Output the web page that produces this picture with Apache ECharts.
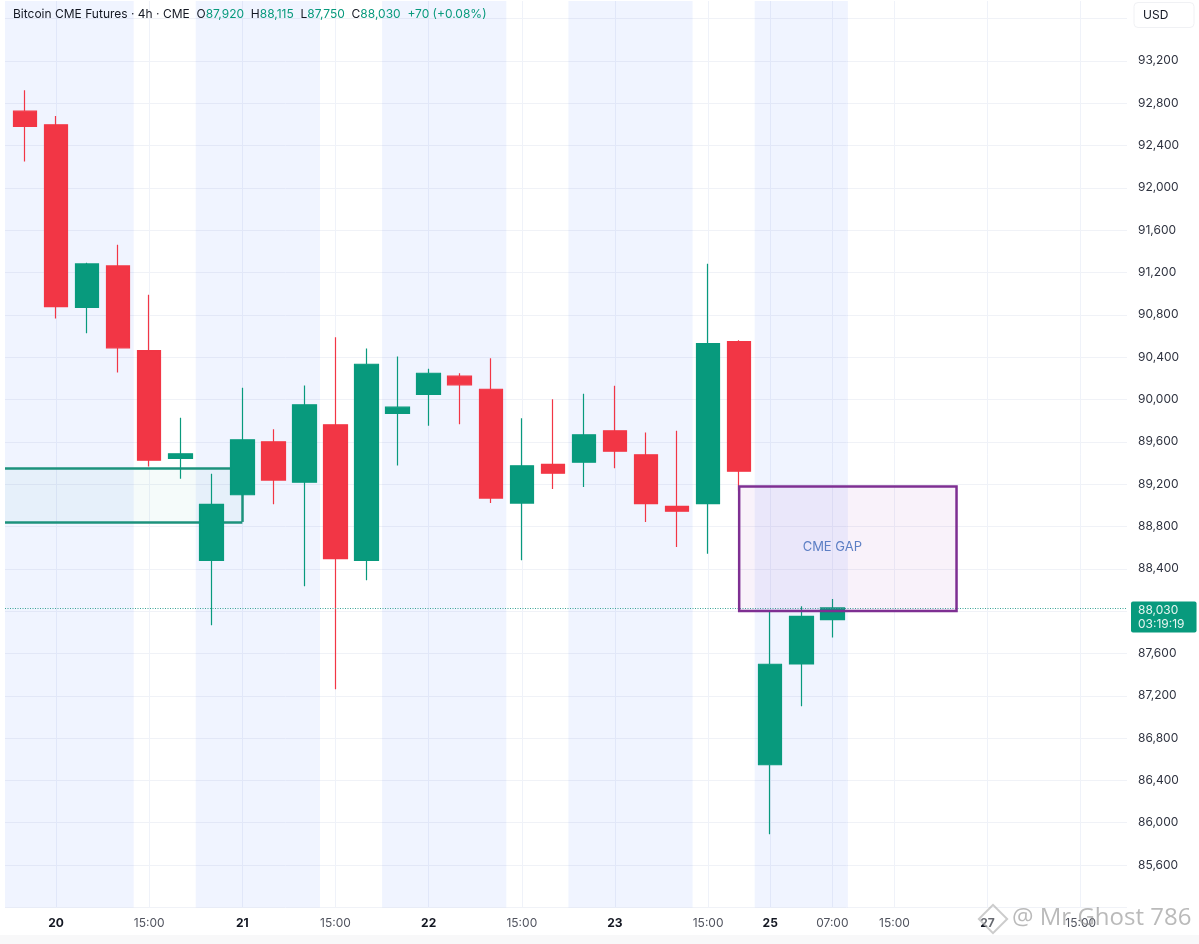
<!DOCTYPE html>
<html lang="en">
<head>
    <meta charset="UTF-8">
    <title>Bitcoin CME Futures 4h</title>
    <script src="https://cdn.jsdelivr.net/npm/echarts@6/dist/echarts.min.js"></script>
    <style>
        * { margin: 0; padding: 0; }
        body { background: #fff; }
        #chart-container { width: 1199px; height: 944px; }
    </style>
</head>
<body>
<div id="chart-container"></div>

<script>
    // bars are placed by slot number, one slot per 4h bar on the exchange's session
    const slots = [0, 1, 2, 3, 4, 5, 6, 7, 8, 9, 10, 11, 12, 13, 14, 15, 16, 17, 18, 19, 20, 21, 22, 23, 24, 25, 26];
    const opens = [92725, 92596, 90871, 91262, 90462, 89443, 88480, 89100, 89600, 89219, 89761, 88480, 89868, 90047, 90220, 90097, 89021, 89386, 89408, 89704, 89478, 88990, 89015, 90547, 86548, 87501, 87920];
    const closes = [92580, 90878, 91281, 90488, 89427, 89487, 89009, 89619, 89238, 89950, 88496, 90333, 89927, 90248, 90139, 89068, 89374, 89304, 89667, 89512, 89015, 88945, 90528, 89323, 87498, 87951, 88030];
    const lows = [92250, 90765, 90626, 90255, 89367, 89251, 87866, 89090, 89011, 88235, 87262, 88291, 89377, 89752, 89767, 89021, 88480, 89153, 89172, 89351, 88842, 88606, 88543, 89141, 85891, 87102, 87750];
    const highs = [92923, 92680, 91293, 91463, 90991, 89827, 89298, 90110, 89719, 90132, 90588, 90481, 90406, 90290, 90248, 90390, 89823, 90003, 90054, 90129, 89688, 89704, 91284, 90560, 87992, 88046, 88115];

    const tickSlots = [1, 4, 7, 10, 13, 16, 19, 22, 24, 26, 28, 31, 34];
    const tickLabels = ['20', '15:00', '21', '15:00', '22', '15:00', '23', '15:00', '25', '07:00', '15:00', '27', '15:00'];

    const slotMin = -0.644;
    const slotMax = 35.49;
    const priceMin = 85200;
    const priceMax = 93766;
    const topPriceLabel = 93200;

    // session shading, from slot / to slot
    const sessionFrom = [slotMin, 5.5, 11.5, 17.5, 23.5];
    const sessionTo = [3.5, 9.5, 15.5, 21.5, 26.5];

    // drawn boxes: green zone and CME gap
    const zoneEndSlot = 7;
    const zonePrices = [89348, 88843];
    const gapSlots = [23, 30];
    const gapPrices = [89178, 88000];
    const gapLabel = 'CME GAP';
    const gapLabelSlot = 26;
    const gapLabelPrice = 88603;

    const lastPrice = 88030;
    const lastLabel = '88,030\n03:19:19';

    const upColor = '#089a7d';
    const downColor = '#f23645';
    const textColor = '#131722';
    const zoneColor = '#1c927c';
    const fontName = 'Inter, sans-serif';

    let candles = [];
    for (let i = 0; i < slots.length; i++) {
        candles.push([slots[i], opens[i], closes[i], lows[i], highs[i]]);
    }

    let sessionAreas = [];
    for (let i = 0; i < sessionFrom.length; i++) {
        sessionAreas.push([{xAxis: sessionFrom[i]}, {xAxis: sessionTo[i]}]);
    }

    let chartDom = document.getElementById('chart-container');
    let myChart = echarts.init(chartDom);

    let option = {
        animation: false,
        backgroundColor: '#fff',
        textStyle: {fontFamily: fontName},
        title: {
            left: 13,
            top: 8,
            padding: 0,
            text: '{k|Bitcoin CME Futures · 4h · CME  O}{v|87,920}{k|  H}{v|88,115}{k|  L}{v|87,750}{k|  C}{v|88,030}{v|  +70 (+0.08%)}',
            textStyle: {
                fontWeight: 'normal',
                rich: {
                    k: {color: textColor, fontSize: 12, fontWeight: 'normal', fontFamily: fontName},
                    v: {color: upColor, fontSize: 12, fontWeight: 'normal', fontFamily: fontName}
                }
            }
        },
        grid: {left: 5, top: 1, width: 1122, height: 906.4},
        xAxis: {
            type: 'value',
            min: slotMin,
            max: slotMax,
            axisLine: {show: false},
            axisTick: {show: false, customValues: tickSlots},
            splitLine: {show: true, lineStyle: {color: '#eff2f9', width: 1}},
            axisLabel: {
                customValues: tickSlots,
                margin: 10,
                hideOverlap: false,
                formatter: function (value) {
                    let label = tickLabels[tickSlots.indexOf(value)];
                    return label.indexOf(':') > 0 ? '{t|' + label + '}' : '{d|' + label + '}';
                },
                rich: {
                    d: {color: textColor, fontSize: 12, fontWeight: 'bold', fontFamily: fontName},
                    t: {color: '#50535e', fontSize: 12, fontFamily: fontName}
                }
            }
        },
        yAxis: {
            type: 'value',
            position: 'right',
            min: priceMin,
            max: priceMax,
            interval: 400,
            axisLine: {show: false},
            axisTick: {show: false},
            splitLine: {show: true, showMaxLine: false, lineStyle: {color: '#f0f2f7', width: 1}},
            axisLabel: {
                margin: 11,
                color: '#2f3340',
                fontSize: 12,
                fontFamily: fontName,
                showMinLabel: false,
                showMaxLabel: false,
                formatter: function (value) {
                    if (value > topPriceLabel) {
                        return '';
                    }
                    return value.toLocaleString('en-US');
                }
            }
        },
        series: [
            {
                // sessions and green zone sit under the candles
                name: 'sessions',
                type: 'line',
                data: [],
                markArea: {
                    silent: true,
                    z: 1,
                    itemStyle: {color: 'rgba(41, 98, 255, 0.07)'},
                    data: sessionAreas
                }
            },
            {
                // zone runs off the left edge, so no left border: edges are three lines
                name: 'zone',
                type: 'line',
                data: [],
                markArea: {
                    silent: true,
                    z: 1,
                    itemStyle: {color: 'rgba(8, 153, 129, 0.04)'},
                    data: [[
                        {coord: [slotMin, zonePrices[0]]},
                        {coord: [zoneEndSlot, zonePrices[1]]}
                    ]]
                },
                markLine: {
                    silent: true,
                    z: 2,
                    symbol: 'none',
                    label: {show: false},
                    lineStyle: {color: zoneColor, type: 'solid', width: 2.5},
                    data: [
                        [{coord: [slotMin, zonePrices[0]]}, {coord: [zoneEndSlot, zonePrices[0]]}],
                        [{coord: [slotMin, zonePrices[1]]}, {coord: [zoneEndSlot, zonePrices[1]]}],
                        [{coord: [zoneEndSlot, zonePrices[0]]}, {coord: [zoneEndSlot, zonePrices[1]]}]
                    ]
                }
            },
            {
                name: 'Bitcoin CME Futures',
                type: 'candlestick',
                z: 3,
                barWidth: 24,
                encode: {x: 0, y: [1, 2, 3, 4]},
                data: candles,
                itemStyle: {
                    color: upColor,
                    color0: downColor,
                    borderColor: upColor,
                    borderColor0: downColor,
                    borderWidth: 1.2
                },
                markLine: {
                    silent: true,
                    symbol: 'none',
                    z: 5,
                    lineStyle: {color: '#3aa597', type: [1, 1.5], width: 1},
                    label: {
                        show: true,
                        position: 'end',
                        distance: 4,
                        offset: [0, 9],
                        formatter: lastLabel,
                        color: '#e6f5f1',
                        backgroundColor: upColor,
                        borderRadius: 2,
                        padding: [2, 12, 1, 7],
                        lineHeight: 14,
                        fontSize: 12,
                        fontFamily: fontName
                    },
                    data: [{yAxis: lastPrice}]
                }
            },
            {
                name: 'gap',
                type: 'line',
                data: [],
                markArea: {
                    silent: true,
                    z: 6,
                    itemStyle: {color: 'rgba(156, 39, 176, 0.06)', borderColor: '#7e2f92', borderWidth: 2.5},
                    data: [[
                        {coord: [gapSlots[0], gapPrices[0]]},
                        {coord: [gapSlots[1], gapPrices[1]]}
                    ]]
                },
                markPoint: {
                    silent: true,
                    z: 7,
                    symbol: 'rect',
                    symbolSize: 0,
                    label: {
                        show: true,
                        position: 'inside',
                        formatter: gapLabel,
                        color: '#5d7fc4',
                        fontSize: 13,
                        fontFamily: fontName
                    },
                    data: [{coord: [gapLabelSlot, gapLabelPrice]}]
                }
            }
        ],
        graphic: [
            {
                type: 'rect',
                shape: {x: 1134, y: 2.5, width: 60, height: 25, r: 4},
                style: {fill: '#fff', stroke: '#f0f1f4', lineWidth: 1}
            },
            {
                type: 'text',
                x: 1143,
                y: 15,
                style: {text: 'USD', fill: textColor, fontSize: 12, fontFamily: fontName, textVerticalAlign: 'middle'}
            },
            {
                type: 'rect',
                shape: {x: 0, y: 935, width: 1199, height: 9},
                style: {fill: '#f8f8f9'}
            },
            {
                // watermark
                type: 'text',
                x: 1012,
                y: 918,
                z: 20,
                style: {text: '@ Mr Ghost 786', fill: 'rgba(140, 140, 140, 0.6)', fontSize: 24, fontFamily: '"Open Sans", sans-serif', textVerticalAlign: 'middle'}
            },
            {
                type: 'rect',
                x: 993,
                y: 919,
                z: 20,
                rotation: Math.PI / 4,
                shape: {x: -10, y: -10, width: 20, height: 20},
                style: {fill: 'rgba(255, 255, 255, 0.35)', stroke: 'rgba(170, 170, 170, 0.6)', lineWidth: 2}
            }
        ]
    };

    option && myChart.setOption(option);
</script>
</body>
</html>
